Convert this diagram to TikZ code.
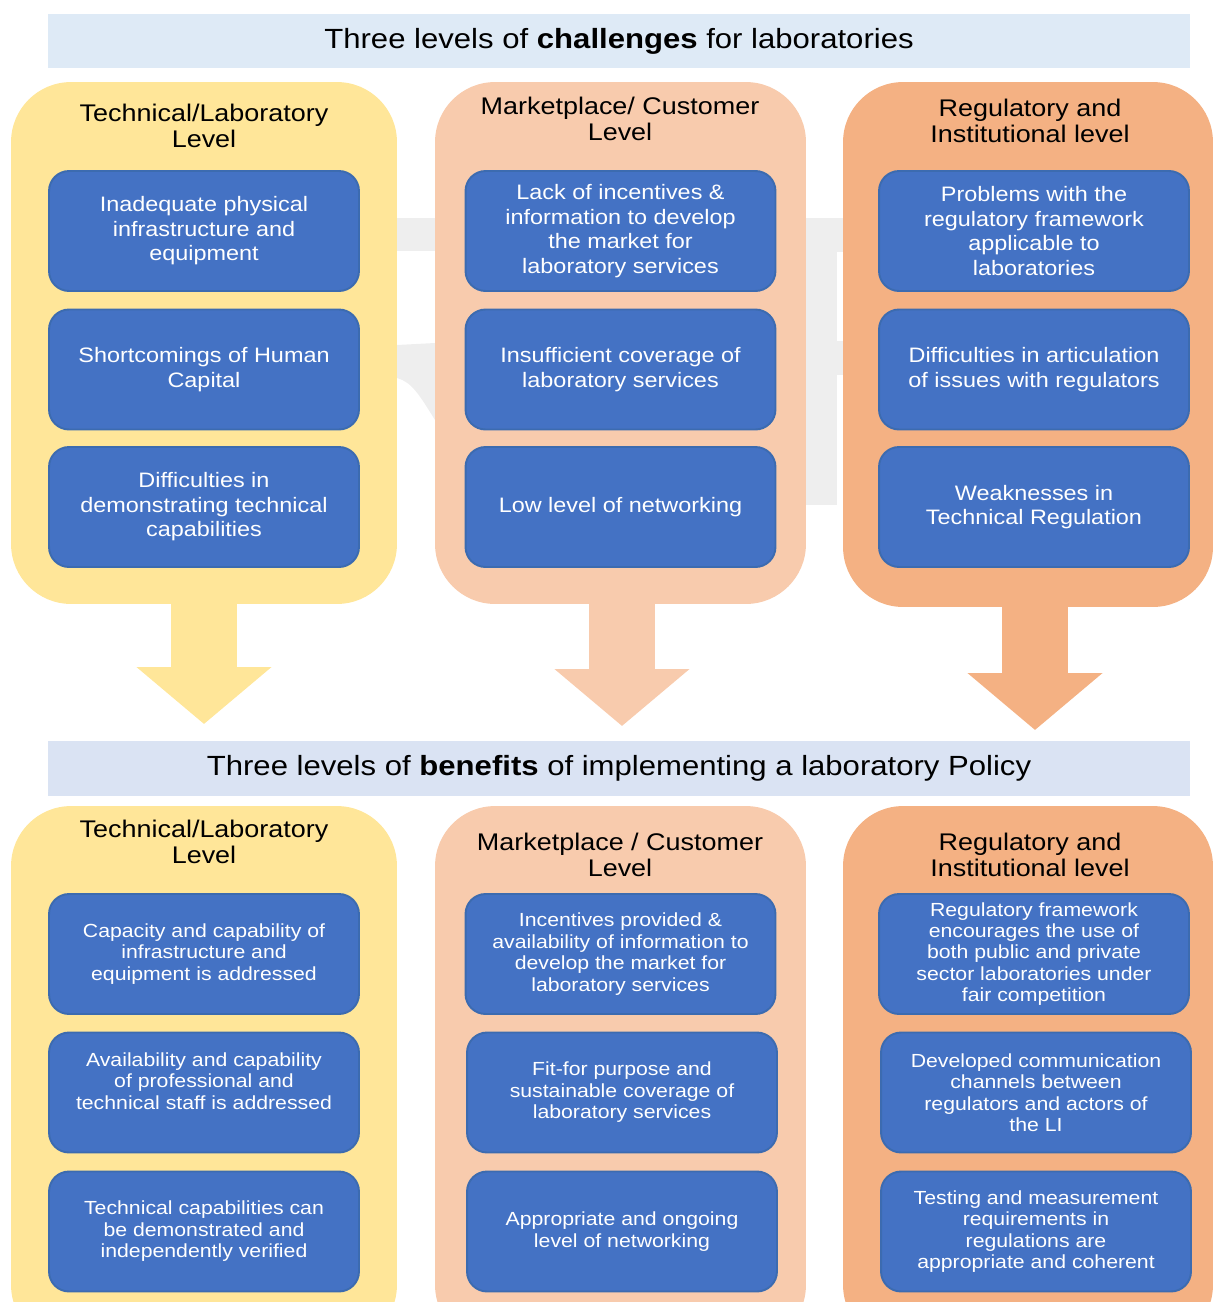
\documentclass[tikz,border=0pt]{standalone}
\usepackage{fontspec}
\setmainfont{Liberation Sans}[FakeStretch=1.12]
\usetikzlibrary{arrows.meta}

\definecolor{bannerA}{HTML}{DEEAF6}
\definecolor{bannerB}{HTML}{DAE3F3}
\definecolor{yel}{HTML}{FFE699}
\definecolor{peach}{HTML}{F8CBAD}
\definecolor{orng}{HTML}{F4B183}
\definecolor{boxblue}{HTML}{4472C4}
\definecolor{boxline}{HTML}{3C6BB0}
\definecolor{wmark}{HTML}{EEEEEE}

\begin{document}
\begin{tikzpicture}[
    x=0.02cm, y=-0.02cm,
    every node/.style={
        align=center,
        inner sep=0pt
    },
    title/.style={fill=#1, minimum width=22.84cm, minimum height=1.1cm,
        font=\fontsize{15.8}{18}\selectfont},
    colbox/.style={fill=#1, rounded corners=1.2cm},
    head/.style={font=\fontsize{13.7}{14.7}\selectfont},
    issue/.style={draw=boxline, fill=boxblue, line width=1.1pt,
        rounded corners=0.4cm, minimum width=6.2cm, minimum height=2.4cm,
        text=white, font=\fontsize{11.9}{13.9}\selectfont},
    gain/.style={issue, font=\fontsize{10.8}{12.2}\selectfont},
    arrow/.style={line width=1.32cm, -{Triangle[length=1.14cm, width=2.64cm]}}
]

\useasboundingbox (0,0) rectangle (1213,1302);
\clip (0,0) rectangle (1213,1302);

% faint watermark behind the columns
\fill[wmark] (397,218) rectangle (435,251);
\fill[wmark] (397,345) -- (435,343) -- (435,420)
    .. controls (420,396) and (412,382) .. (397,378) -- cycle;
\fill[wmark] (806,218) rectangle (843,252);
\fill[wmark] (806,252) rectangle (837,505);
\fill[wmark] (837,341) rectangle (843,375);

% challenges
\node (ttop) [title=bannerA] at (619,41)
    {Three levels of \textbf{challenges} for laboratories};

\node (c1) [colbox=yel, minimum width=7.72cm, minimum height=10.44cm] at (204,343) {};
\node (c2) [colbox=peach, minimum width=7.42cm, minimum height=10.44cm] at (620.5,343) {};
\node (c3) [colbox=orng, minimum width=7.4cm, minimum height=10.5cm] at (1028,344.5) {};

\node (h1) [head] at (204,126) {Technical/Laboratory\\Level};
\node (h2) [head] at (620,119) {Marketplace/ Customer\\Level};
\node (h3) [head] at (1030,121) {Regulatory and\\Institutional level};

\node (infra) [issue] at (204,231) {Inadequate physical\\infrastructure and\\equipment};
\node (human) [issue] at (204,369.5) {Shortcomings of Human\\Capital};
\node (demo) [issue] at (204,507) {Difficulties in\\demonstrating technical\\capabilities};

\node (incent) [issue] at (620.5,231) {Lack of incentives \&\\information to develop\\the market for\\laboratory services};
\node (cover) [issue] at (620.5,369.5) {Insufficient coverage of\\laboratory services};
\node (network) [issue] at (620.5,507) {Low level of networking};

\node (frame) [issue] at (1034,231) {Problems with the\\regulatory framework\\applicable to\\laboratories};
\node (artic) [issue] at (1034,369.5) {Difficulties in articulation\\of issues with regulators};
\node (techreg) [issue] at (1034,507) {Weaknesses in\\Technical Regulation};

% block arrows down to the benefits
\coordinate (tip1) at (204,724);
\coordinate (tip2) at (622,726);
\coordinate (tip3) at (1035,730);

\draw [arrow, yel] (c1.south -| tip1) -- (tip1);
\draw [arrow, peach] (c2.south -| tip2) -- (tip2);
\draw [arrow, orng] (c3.south -| tip3) -- (tip3);

% benefits
\node (tbot) [title=bannerB] at (619,768)
    {Three levels of \textbf{benefits} of implementing a laboratory Policy};

\node (d1) [colbox=yel, minimum width=7.72cm, minimum height=10.78cm] at (204,1075.5) {};
\node (d2) [colbox=peach, minimum width=7.42cm, minimum height=10.78cm] at (620.5,1075.5) {};
\node (d3) [colbox=orng, minimum width=7.4cm, minimum height=10.78cm] at (1028,1075.5) {};

\node (k1) [head] at (204,842) {Technical/Laboratory\\Level};
\node (k2) [head] at (620,855) {Marketplace / Customer\\Level};
\node (k3) [head] at (1030,855) {Regulatory and\\Institutional level};

\node (capa) [gain] at (204,954) {Capacity and capability of\\infrastructure and\\equipment is addressed};
\node (staff) [gain, text depth=13pt] at (204,1092.5) {Availability and capability\\of professional and\\technical staff is addressed};
\node (verif) [gain] at (204,1231.5) {Technical capabilities can\\be demonstrated and\\independently verified};

\node (provid) [gain] at (620.5,954) {Incentives provided \&\\availability of information to\\develop the market for\\laboratory services};
\node (fit) [gain] at (622,1092.5) {Fit-for purpose and\\sustainable coverage of\\laboratory services};
\node (ongo) [gain] at (622,1231.5) {Appropriate and ongoing\\level of networking};

\node (encour) [gain] at (1034,954) {Regulatory framework\\encourages the use of\\both public and private\\sector laboratories under\\fair competition};
\node (channel) [gain] at (1036,1092.5) {Developed communication\\channels between\\regulators and actors of\\the LI};
\node (testing) [gain] at (1036,1231.5) {Testing and measurement\\requirements in\\regulations are\\appropriate and coherent};

\end{tikzpicture}
\end{document}
